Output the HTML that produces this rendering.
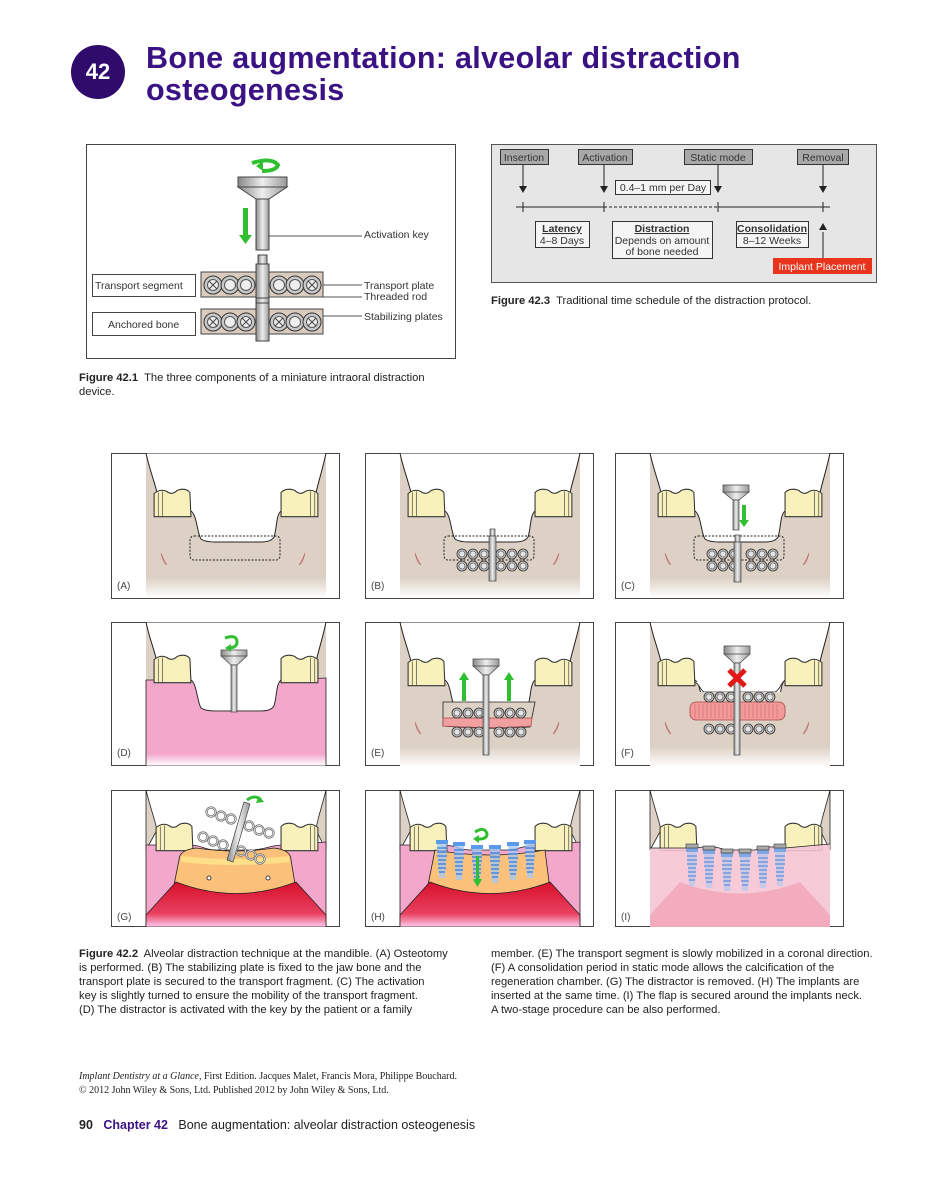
<!DOCTYPE html>
<html><head><meta charset="utf-8">
<style>
body{margin:0;background:#fff;}
#pg{position:relative;width:950px;height:1198px;overflow:hidden;font-family:"Liberation Sans",sans-serif;color:#222;}
.a{position:absolute;white-space:nowrap;}
.cap{font-size:11.2px;line-height:14px;color:#222;}
.cap b{font-weight:bold;}
svg{position:absolute;overflow:hidden;}
</style></head><body><div id="pg">

<svg width="0" height="0" style="position:absolute">
<defs>
<linearGradient id="bone" x1="0" y1="0" x2="0" y2="1"><stop offset="0" stop-color="#ddd1c5"/><stop offset=".86" stop-color="#ddd1c5"/><stop offset="1" stop-color="#fff"/></linearGradient>
<linearGradient id="gum" x1="0" y1="0" x2="0" y2="1"><stop offset="0" stop-color="#f3a7cb"/><stop offset=".86" stop-color="#f3a7cb"/><stop offset="1" stop-color="#fff"/></linearGradient>
<linearGradient id="red" x1="0" y1="0" x2="0" y2="1"><stop offset="0" stop-color="#d8102a"/><stop offset=".7" stop-color="#e84060"/><stop offset="1" stop-color="#fce"/></linearGradient>
<linearGradient id="met" x1="0" y1="0" x2="1" y2="0"><stop offset="0" stop-color="#888"/><stop offset=".5" stop-color="#eee"/><stop offset="1" stop-color="#999"/></linearGradient>
<symbol id="s" overflow="visible"><circle r="5" fill="#bbb" stroke="#333" stroke-width=".8"/><circle r="3" fill="#e4e4e4" stroke="#555" stroke-width=".6"/></symbol>
<symbol id="t" viewBox="0 0 38 28"><path d="M2,5 Q8,0 14,3 Q19,7 24,2 Q32,-1 36,4 L37,27 L2,27 Z" fill="#f8f1bc" stroke="#333" stroke-width="1"/><path d="M6,4 L6,27 M10,3 L10,27" stroke="#555" stroke-width=".7" fill="none"/></symbol>
<symbol id="t2" viewBox="0 0 38 28"><path d="M1,4 Q6,-1 14,2 Q19,7 24,3 Q30,0 36,5 L36,27 L1,27 Z" fill="#f8f1bc" stroke="#333" stroke-width="1"/><path d="M29,3 L29,27 M33,4 L33,27" stroke="#555" stroke-width=".7" fill="none"/></symbol>
<symbol id="jaw" overflow="visible">
<rect x="35" y="0" width="180" height="145" fill="url(#bone)"/>
<path d="M35,0 C38,15 44,30 46,40 L80,58 C86,62 86,80 90,86 Q94,89 104,89 L150,89 Q160,89 163,84 C166,75 165,62 170,58 L205,40 C207,30 212,15 215,0 Z" fill="#fff" stroke="#222" stroke-width="1"/>
<use href="#t" x="41" y="35" width="40" height="30"/>
<use href="#t2" x="169" y="35" width="40" height="30"/>
<path d="M50,100 q3,8 6,12 q-4,-2 -6,-12z M194,100 q-3,8 -6,12 q4,-2 6,-12z" fill="#e9a0a8" stroke="#b66" stroke-width=".6"/>
</symbol>
<symbol id="ring" overflow="visible"><circle r="4.5" fill="none" stroke="#666" stroke-width="2.2"/><circle r="4.5" fill="none" stroke="#ddd" stroke-width="1"/></symbol>
<symbol id="imp" overflow="visible"><rect x="-6" y="0" width="12" height="4" fill="#5a9ae8"/><path d="M-5,4 L5,4 L3,38 L-3,38 Z" fill="#a8c8f0" opacity=".8"/><path d="M-5,8h10M-5,12h10M-5,16h10M-4,20h8M-4,24h8M-4,28h8M-3,32h6" stroke="#4a86d8" stroke-width="1.6"/></symbol>
</defs></svg>

<!-- Title -->
<div class="a" style="left:71px;top:45px;width:54px;height:54px;border-radius:50%;background:#2f0b6c;color:#fff;font-weight:bold;font-size:22px;line-height:54px;text-align:center;">42</div>
<div class="a" style="left:146px;top:42px;font-size:30.5px;font-weight:bold;color:#3b1283;line-height:32px;letter-spacing:0.3px;">Bone augmentation: alveolar distraction<br>osteogenesis</div>

<!-- Figure 42.1 -->
<svg style="left:86px;top:144px" width="370" height="215" viewBox="86 144 370 215">
<rect x="86.5" y="144.5" width="369" height="214" fill="#fff" stroke="#444"/>
<path d="M252,163 q20,-6 26,2 q-2,6 -16,6" fill="none" stroke="#2fbf2f" stroke-width="4"/>
<path d="M256,166 l7,-5 v10z" fill="#2fbf2f"/>
<path d="M238,177 h49 v10 h-49z" fill="url(#met)" stroke="#444"/>
<path d="M238,187 h49 l-18,12 h-13z" fill="url(#met)" stroke="#444"/>
<rect x="256" y="199" width="13" height="51" fill="url(#met)" stroke="#444"/>
<rect x="243" y="208" width="5" height="28" fill="#2fbf2f"/><path d="M239,235 h13 l-6.5,9z" fill="#2fbf2f"/>
<rect x="201" y="272" width="122" height="25" fill="#d9cbbd" stroke="#444"/>
<rect x="201" y="309" width="122" height="25" fill="#d9cbbd" stroke="#444"/>
<g fill="#c8c8c8" stroke="#333">
<circle cx="213" cy="285" r="9"/><circle cx="230" cy="285" r="9"/><circle cx="246" cy="285" r="9"/><circle cx="279" cy="285" r="9"/><circle cx="295" cy="285" r="9"/><circle cx="312" cy="285" r="9"/>
<circle cx="213" cy="322" r="9"/><circle cx="230" cy="322" r="9"/><circle cx="246" cy="322" r="9"/><circle cx="279" cy="322" r="9"/><circle cx="295" cy="322" r="9"/><circle cx="312" cy="322" r="9"/>
</g>
<g fill="#eee" stroke="#555">
<circle cx="213" cy="285" r="5.5"/><circle cx="230" cy="285" r="5.5"/><circle cx="246" cy="285" r="5.5"/><circle cx="279" cy="285" r="5.5"/><circle cx="295" cy="285" r="5.5"/><circle cx="312" cy="285" r="5.5"/>
<circle cx="213" cy="322" r="5.5"/><circle cx="230" cy="322" r="5.5"/><circle cx="246" cy="322" r="5.5"/><circle cx="279" cy="322" r="5.5"/><circle cx="295" cy="322" r="5.5"/><circle cx="312" cy="322" r="5.5"/>
</g>
<path d="M209,281l8,8m0,-8l-8,8 M308,281l8,8m0,-8l-8,8 M209,318l8,8m0,-8l-8,8 M242,318l8,8m0,-8l-8,8 M275,318l8,8m0,-8l-8,8 M308,318l8,8m0,-8l-8,8" stroke="#444" stroke-width="1"/>
<rect x="258" y="255" width="9" height="9" fill="url(#met)" stroke="#444"/>
<rect x="256" y="264" width="13" height="77" fill="url(#met)" stroke="#444"/>
<path d="M256,298h13M256,303h13" stroke="#444"/>
<path d="M268,236H362 M323,285H362 M270,297H362 M323,316H362" stroke="#555"/>
<rect x="92.5" y="274.5" width="103" height="22" fill="#fff" stroke="#444"/>
<rect x="92.5" y="312.5" width="103" height="23" fill="#fff" stroke="#444"/>
<g font-family="Liberation Sans" font-size="10.5" fill="#333">
<text x="364" y="238">Activation key</text>
<text x="364" y="289">Transport plate</text>
<text x="364" y="300">Threaded rod</text>
<text x="364" y="320">Stabilizing plates</text>
<text x="95" y="289">Transport segment</text>
<text x="108" y="328">Anchored bone</text>
</g></svg>
<div class="a cap" style="left:79px;top:371px;"><b>Figure 42.1</b>&nbsp; The three components of a miniature intraoral distraction<br>device.</div>

<!-- Figure 42.3 -->
<svg style="left:491px;top:144px" width="387" height="139" viewBox="491 144 387 139">
<rect x="491.5" y="144.5" width="385" height="138" fill="#e6e6e6" stroke="#555"/>
<g fill="#a8a8a8" stroke="#333"><rect x="500.5" y="149.5" width="48" height="15"/><rect x="578.5" y="149.5" width="54" height="15"/><rect x="684.5" y="149.5" width="68" height="15"/><rect x="797.5" y="149.5" width="51" height="15"/></g>
<g stroke="#222"><path d="M523,165V186M604,165V186M718,165V186M823,165V186M823,232V258"/>
<path d="M516,207H604M718,207H830M523,202v10M604,202v10M718,202v10M823,202v10"/>
<path d="M604,207H718" stroke-dasharray="3,2"/></g>
<g fill="#222"><path d="M519,186h8l-4,7z M600,186h8l-4,7z M714,186h8l-4,7z M819,186h8l-4,7z M819,230h8l-4,-7z"/></g>
<g fill="#f5f5f5" stroke="#333"><rect x="615.5" y="180.5" width="95" height="14"/><rect x="535.5" y="221.5" width="54" height="26"/><rect x="612.5" y="221.5" width="100" height="37"/><rect x="736.5" y="221.5" width="72" height="26"/></g>
<rect x="773" y="258" width="99" height="16" fill="#e8341c"/>
<g font-family="Liberation Sans" font-size="10.5" fill="#333" text-anchor="middle">
<text x="524" y="161">Insertion</text><text x="605" y="161">Activation</text><text x="718" y="161">Static mode</text><text x="823" y="161">Removal</text>
<text x="663" y="191">0.4–1 mm per Day</text>
<text x="562" y="232" font-weight="bold" text-decoration="underline">Latency</text><text x="562" y="244">4–8 Days</text>
<text x="662" y="232" font-weight="bold" text-decoration="underline">Distraction</text><text x="662" y="244">Depends on amount</text><text x="662" y="255">of bone needed</text>
<text x="772" y="232" font-weight="bold" text-decoration="underline">Consolidation</text><text x="772" y="244">8–12 Weeks</text>
<text x="822" y="270" fill="#fff">Implant Placement</text>
</g></svg>
<div class="a cap" style="left:491px;top:294px;"><b>Figure 42.3</b>&nbsp; Traditional time schedule of the distraction protocol.</div>

<!-- Panel A -->
<svg style="left:111px;top:453px" width="229" height="146" viewBox="0 0 229 146">
<rect x=".5" y=".5" width="228" height="145" fill="#fff" stroke="#444"/>
<use href="#jaw"/>
<rect x="79" y="83" width="90" height="24" rx="4" fill="none" stroke="#222" stroke-dasharray="2,1.5"/>
<text x="6" y="136" font-size="10" fill="#444">(A)</text></svg>

<!-- Panel B -->
<svg style="left:365px;top:453px" width="229" height="146" viewBox="0 0 229 146">
<rect x=".5" y=".5" width="228" height="145" fill="#fff" stroke="#444"/>
<use href="#jaw"/>
<rect x="79" y="83" width="90" height="24" rx="4" fill="none" stroke="#222" stroke-dasharray="2,1.5"/>
<g><use href="#s" x="97" y="101"/><use href="#s" x="108" y="101"/><use href="#s" x="119" y="101"/><use href="#s" x="136" y="101"/><use href="#s" x="147" y="101"/><use href="#s" x="158" y="101"/>
<use href="#s" x="97" y="113"/><use href="#s" x="108" y="113"/><use href="#s" x="119" y="113"/><use href="#s" x="136" y="113"/><use href="#s" x="147" y="113"/><use href="#s" x="158" y="113"/></g>
<rect x="125" y="76" width="5" height="7" fill="url(#met)" stroke="#444" stroke-width=".7"/>
<rect x="124" y="83" width="7" height="45" fill="url(#met)" stroke="#444" stroke-width=".7"/>
<text x="6" y="136" font-size="10" fill="#444">(B)</text></svg>

<!-- Panel C -->
<svg style="left:615px;top:453px" width="229" height="146" viewBox="0 0 229 146">
<rect x=".5" y=".5" width="228" height="145" fill="#fff" stroke="#444"/>
<use href="#jaw"/>
<rect x="79" y="83" width="90" height="24" rx="4" fill="none" stroke="#222" stroke-dasharray="2,1.5"/>
<g><use href="#s" x="97" y="101"/><use href="#s" x="108" y="101"/><use href="#s" x="119" y="101"/><use href="#s" x="136" y="101"/><use href="#s" x="147" y="101"/><use href="#s" x="158" y="101"/>
<use href="#s" x="97" y="113"/><use href="#s" x="108" y="113"/><use href="#s" x="119" y="113"/><use href="#s" x="136" y="113"/><use href="#s" x="147" y="113"/><use href="#s" x="158" y="113"/></g>
<rect x="120" y="82" width="5" height="7" fill="url(#met)" stroke="#444" stroke-width=".7"/>
<rect x="119" y="89" width="7" height="40" fill="url(#met)" stroke="#444" stroke-width=".7"/>
<path d="M108,32h26v7h-26z M108,39h26l-10,8h-6z" fill="url(#met)" stroke="#444" stroke-width=".7"/>
<rect x="118" y="47" width="6" height="30" fill="url(#met)" stroke="#444" stroke-width=".7"/>
<rect x="127" y="52" width="4" height="16" fill="#2fbf2f"/><path d="M124,67h10l-5,7z" fill="#2fbf2f"/>
<text x="6" y="136" font-size="10" fill="#444">(C)</text></svg>

<!-- Panel D -->
<svg style="left:111px;top:622px" width="229" height="144" viewBox="0 0 229 144">
<rect x=".5" y=".5" width="228" height="143" fill="#fff" stroke="#444"/>
<use href="#jaw"/>
<path d="M35,58 L80,58 C86,62 86,80 90,86 Q94,89 104,89 L150,89 Q160,89 163,84 C166,75 165,62 170,58 L215,56 L215,144 L35,144Z" fill="url(#gum)" stroke="#222" stroke-width=".8"/>
<use href="#t" x="41" y="32" width="40" height="30"/><use href="#t2" x="169" y="32" width="40" height="30"/>
<path d="M110,28h26v6h-26z M110,34h26l-10,9h-6z" fill="url(#met)" stroke="#444" stroke-width=".7"/>
<rect x="120" y="43" width="6" height="47" fill="url(#met)" stroke="#444" stroke-width=".7"/>
<path d="M114,16 q12,-4 12,4 q0,6 -9,6" fill="none" stroke="#2fbf2f" stroke-width="3"/><path d="M114,26l6,-4v8z" fill="#2fbf2f"/>
<text x="6" y="134" font-size="10" fill="#444">(D)</text></svg>

<!-- Panel E -->
<svg style="left:365px;top:622px" width="229" height="144" viewBox="0 0 229 144">
<rect x=".5" y=".5" width="228" height="143" fill="#fff" stroke="#444"/>
<use href="#jaw"/>
<path d="M78,80 L170,80 L165,105 Q125,108 78,104Z" fill="#ddd1c5" stroke="#222" stroke-width=".8"/>
<path d="M78,96 L167,96 L166,104 Q125,107 78,104Z" fill="#f0a0a0" stroke="#a44" stroke-width=".7"/>
<g><use href="#s" x="92" y="91"/><use href="#s" x="103" y="91"/><use href="#s" x="114" y="91"/><use href="#s" x="134" y="91"/><use href="#s" x="145" y="91"/><use href="#s" x="156" y="91"/>
<use href="#s" x="92" y="110"/><use href="#s" x="103" y="110"/><use href="#s" x="114" y="110"/><use href="#s" x="134" y="110"/><use href="#s" x="145" y="110"/><use href="#s" x="156" y="110"/></g>
<path d="M108,37h26v7h-26z M108,44h26l-10,9h-6z" fill="url(#met)" stroke="#444" stroke-width=".7"/>
<rect x="118" y="53" width="6" height="80" fill="url(#met)" stroke="#444" stroke-width=".7"/>
<g fill="#2fbf2f"><rect x="97" y="57" width="4" height="22"/><path d="M94,58h10l-5,-8z"/><rect x="142" y="57" width="4" height="22"/><path d="M139,58h10l-5,-8z"/></g>
<text x="6" y="134" font-size="10" fill="#444">(E)</text></svg>

<!-- Panel F -->
<svg style="left:615px;top:622px" width="229" height="144" viewBox="0 0 229 144">
<rect x=".5" y=".5" width="228" height="143" fill="#fff" stroke="#444"/>
<use href="#jaw"/>
<path d="M80,60 C86,64 86,70 90,70 L160,70 C165,68 165,62 170,58" fill="#fff" stroke="#222" stroke-width=".8"/>
<rect x="80" y="70" width="88" height="15" fill="#ddd1c5"/>
<rect x="75" y="80" width="95" height="18" rx="6" fill="#f09a9a" stroke="#a44" stroke-width=".8"/>
<path d="M80,82v14M84,82v14M88,82v14M92,82v14M96,82v14M100,82v14M104,82v14M108,82v14M112,82v14M116,82v14M130,82v14M134,82v14M138,82v14M142,82v14M146,82v14M150,82v14M154,82v14M158,82v14M162,82v14" stroke="#d66" stroke-width=".6"/>
<g><use href="#s" x="94" y="75"/><use href="#s" x="105" y="75"/><use href="#s" x="116" y="75"/><use href="#s" x="133" y="75"/><use href="#s" x="144" y="75"/><use href="#s" x="155" y="75"/>
<use href="#s" x="94" y="107"/><use href="#s" x="105" y="107"/><use href="#s" x="116" y="107"/><use href="#s" x="133" y="107"/><use href="#s" x="144" y="107"/><use href="#s" x="155" y="107"/></g>
<path d="M109,24h26v8h-26z M109,32h26l-10,9h-6z" fill="url(#met)" stroke="#444" stroke-width=".7"/>
<rect x="119" y="41" width="6" height="92" fill="url(#met)" stroke="#444" stroke-width=".7"/>
<path d="M114,48l16,16M130,48l-16,16" stroke="#e01818" stroke-width="5"/>
<text x="6" y="134" font-size="10" fill="#444">(F)</text></svg>

<!-- Panel G -->
<svg style="left:111px;top:790px" width="229" height="137" viewBox="0 0 229 137">
<rect x=".5" y=".5" width="228" height="136" fill="#fff" stroke="#444"/>
<path d="M35,0 C40,20 44,30 46,40 L35,60Z M215,0 C210,20 206,30 205,40 L215,60Z" fill="#ddd1c5" stroke="#222" stroke-width=".8"/>
<path d="M35,55 L80,55 C95,56 90,60 110,60 L140,60 C155,60 155,56 170,55 L215,52 L215,137 L35,137Z" fill="url(#gum)" stroke="#222" stroke-width=".8"/>
<use href="#t" x="43" y="32" width="40" height="30"/><use href="#t2" x="169" y="32" width="40" height="30"/>
<path d="M68,70 Q68,60 85,58 Q125,64 163,58 Q180,60 180,70 L185,100 Q125,110 62,100Z" fill="#fbc07a" stroke="#222" stroke-width=".8"/>
<path d="M70,66 Q125,72 178,66 L179,72 Q125,78 70,72Z" fill="#ffe08a"/>
<path d="M35,125 L65,92 Q125,115 185,92 L215,125 L215,137 L35,137Z" fill="url(#red)" stroke="#222" stroke-width=".8"/>
<circle cx="98" cy="88" r="2" fill="#fff" stroke="#444"/><circle cx="157" cy="88" r="2" fill="#fff" stroke="#444"/>
<g><use href="#ring" x="100" y="22"/><use href="#ring" x="110" y="26"/><use href="#ring" x="120" y="29"/><use href="#ring" x="138" y="36"/><use href="#ring" x="148" y="40"/><use href="#ring" x="158" y="43"/>
<use href="#ring" x="92" y="47"/><use href="#ring" x="102" y="51"/><use href="#ring" x="112" y="55"/><use href="#ring" x="130" y="61"/><use href="#ring" x="140" y="65"/><use href="#ring" x="149" y="69"/></g>
<path d="M133,12 L139,14 L122,72 L116,70Z" fill="url(#met)" stroke="#444" stroke-width=".7"/>
<path d="M136,10 q8,-6 14,0" fill="none" stroke="#2fbf2f" stroke-width="3"/><path d="M148,6l5,6l-8,1z" fill="#2fbf2f"/>
<text x="6" y="130" font-size="10" fill="#444">(G)</text></svg>

<!-- Panel H -->
<svg style="left:365px;top:790px" width="229" height="137" viewBox="0 0 229 137">
<rect x=".5" y=".5" width="228" height="136" fill="#fff" stroke="#444"/>
<path d="M35,0 C40,20 44,30 46,40 L35,60Z M215,0 C210,20 206,30 205,40 L215,60Z" fill="#ddd1c5" stroke="#222" stroke-width=".8"/>
<path d="M35,55 L80,55 C95,56 90,60 110,60 L140,60 C155,60 155,56 170,55 L215,52 L215,137 L35,137Z" fill="url(#gum)" stroke="#222" stroke-width=".8"/>
<use href="#t" x="43" y="32" width="40" height="30"/><use href="#t2" x="169" y="32" width="40" height="30"/>
<path d="M70,60 Q125,70 180,60 L185,100 Q125,110 62,100Z" fill="#fbc07a" stroke="#222" stroke-width=".8"/>
<path d="M35,125 L65,92 Q125,115 185,92 L215,125 L215,137 L35,137Z" fill="url(#red)" stroke="#222" stroke-width=".8"/>
<g><use href="#imp" x="77" y="50"/><use href="#imp" x="94" y="52"/><use href="#imp" x="112" y="55"/><use href="#imp" x="130" y="55"/><use href="#imp" x="148" y="52"/><use href="#imp" x="165" y="50"/></g>
<rect x="111" y="66" width="3" height="24" fill="#2fbf2f"/><path d="M108,89h9l-4.5,8z" fill="#2fbf2f"/>
<path d="M110,42 q10,-6 12,2 q0,5 -8,5" fill="none" stroke="#2fbf2f" stroke-width="3"/><path d="M108,49l6,-4v8z" fill="#2fbf2f"/>
<text x="6" y="130" font-size="10" fill="#444">(H)</text></svg>

<!-- Panel I -->
<svg style="left:615px;top:790px" width="229" height="137" viewBox="0 0 229 137">
<rect x=".5" y=".5" width="228" height="136" fill="#fff" stroke="#444"/>
<path d="M35,0 C40,20 44,30 46,40 L35,60Z M215,0 C210,20 206,30 205,40 L215,60Z" fill="#ddd1c5" stroke="#222" stroke-width=".8"/>
<use href="#t" x="43" y="32" width="40" height="30"/><use href="#t2" x="169" y="32" width="40" height="30"/>
<path d="M35,58 L80,58 Q100,55 110,60 L140,60 Q155,55 170,58 L215,54 L215,137 L35,137Z" fill="#f6c4d4" opacity=".9"/>
<path d="M35,125 L65,92 Q125,115 185,92 L215,125 L215,137 L35,137Z" fill="#f0a0b4" opacity=".7"/>
<path d="M35,58 L80,58 Q100,55 110,60 L140,60 Q155,55 170,58 L215,54" fill="none" stroke="#222" stroke-width=".8"/>
<g opacity=".75"><use href="#imp" x="77" y="58"/><use href="#imp" x="94" y="60"/><use href="#imp" x="112" y="63"/><use href="#imp" x="130" y="63"/><use href="#imp" x="148" y="60"/><use href="#imp" x="165" y="58"/></g>
<g fill="#aaa" stroke="#333" stroke-width=".6"><rect x="71" y="54" width="12" height="4"/><rect x="88" y="56" width="12" height="4"/><rect x="106" y="59" width="12" height="4"/><rect x="124" y="59" width="12" height="4"/><rect x="142" y="56" width="12" height="4"/><rect x="159" y="54" width="12" height="4"/></g>
<text x="6" y="130" font-size="10" fill="#444">(I)</text></svg>

<!-- Captions -->
<div class="a cap" style="left:79px;top:947px;"><b>Figure 42.2</b>&nbsp; Alveolar distraction technique at the mandible. (A) Osteotomy<br>is performed. (B) The stabilizing plate is fixed to the jaw bone and the<br>transport plate is secured to the transport fragment. (C) The activation<br>key is slightly turned to ensure the mobility of the transport fragment.<br>(D) The distractor is activated with the key by the patient or a family</div>
<div class="a cap" style="left:491px;top:947px;">member. (E) The transport segment is slowly mobilized in a coronal direction.<br>(F) A consolidation period in static mode allows the calcification of the<br>regeneration chamber. (G) The distractor is removed. (H) The implants are<br>inserted at the same time. (I) The flap is secured around the implants neck.<br>A two-stage procedure can be also performed.</div>

<div class="a" style="left:79px;top:1070px;font-family:'Liberation Serif',serif;font-size:10px;line-height:14px;color:#222;"><i>Implant Dentistry at a Glance</i>, First Edition. Jacques Malet, Francis Mora, Philippe Bouchard.<br>© 2012 John Wiley &amp; Sons, Ltd. Published 2012 by John Wiley &amp; Sons, Ltd.</div>
<div class="a" style="left:79px;top:1118px;font-size:12.5px;color:#222;"><b>90</b>&nbsp;&nbsp; <b style="color:#3b1283">Chapter 42</b>&nbsp;&nbsp; Bone augmentation: alveolar distraction osteogenesis</div>

</div></body></html>
